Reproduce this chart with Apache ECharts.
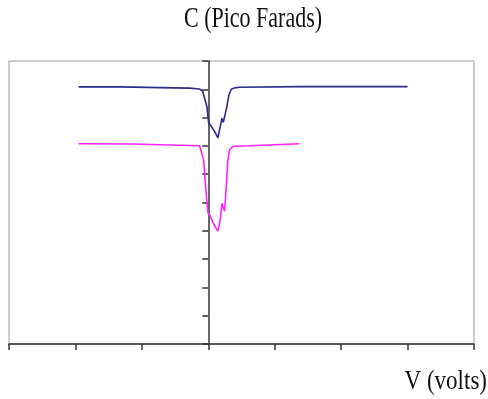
<!DOCTYPE html>
<html><head><meta charset="utf-8">
<script src="https://cdn.jsdelivr.net/npm/echarts@6/dist/echarts.min.js"></script>
<style>html,body{margin:0;padding:0;background:#fff}#c{width:488px;height:399px}</style>
</head><body><div id="c"></div>
<script>
var titleText = 'C (Pico Farads)';
var xAxisName = 'V (volts)';
var xMin = -3, xMax = 4, yMin = 0, yMax = 10;
var blueX = [-1.953,-1.336,-0.733,-0.282,-0.131,-0.086,-0.056,-0.021,0.005,0.045,0.095,0.145,0.181,0.205,0.226,0.245,0.280,0.310,0.346,0.396,0.471,1.375,3.00];
var blueY = [9.085,9.085,9.06,9.04,9.01,8.94,8.87,8.39,7.82,7.69,7.51,7.28,7.69,7.98,7.83,7.89,8.39,8.80,9.00,9.05,9.07,9.095,9.095];
var pinkX = [-1.953,-1.140,-0.432,-0.131,-0.105,-0.071,-0.041,-0.006,0.030,0.069,0.110,0.145,0.181,0.205,0.226,0.245,0.271,0.295,0.321,0.361,0.396,0.622,1.375];
var pinkY = [7.077,7.067,7.025,7.007,6.937,6.514,5.574,4.648,4.518,4.296,4.120,3.989,4.401,4.965,4.813,4.694,5.574,6.514,6.866,6.961,6.989,7.007,7.077];
function pairs(xs, ys){ return xs.map(function(x,i){ return [x, ys[i]]; }); }
var chart = echarts.init(document.getElementById('c'), null, {renderer:'canvas'});
chart.setOption({
  animation:false,
  backgroundColor:'#fff',
  grid:{left:9,right:14,top:61,bottom:55,show:true,borderColor:'#9a9a9a',borderWidth:1,backgroundColor:'#fff'},
  xAxis:{type:'value',min:xMin,max:xMax,interval:1,
    axisLine:{show:true,onZero:true,lineStyle:{color:'#333',width:1.5}},
    axisTick:{show:true,length:6,lineStyle:{color:'#333',width:1.5}},
    axisLabel:{show:false},splitLine:{show:false}},
  yAxis:{type:'value',min:yMin,max:yMax,interval:1,
    axisLine:{show:true,onZero:true,lineStyle:{color:'#333',width:1.5}},
    axisTick:{show:true,length:6,lineStyle:{color:'#333',width:1.5}},
    axisLabel:{show:false},splitLine:{show:false}},
  graphic:[
    {type:'text',x:253,y:19,scaleY:1.35,style:{text:titleText,font:'22px "Liberation Serif", serif',fill:'#111',align:'center',verticalAlign:'middle'}},
    {type:'text',x:487,y:382,scaleY:1.15,style:{text:xAxisName,font:'23px "Liberation Serif", serif',fill:'#111',align:'right',verticalAlign:'middle'}}
  ],
  series:[
    {type:'line',data:pairs(blueX,blueY),showSymbol:false,symbol:'none',lineStyle:{color:'#2b2b8c',width:1.6}},
    {type:'line',data:pairs(pinkX,pinkY),showSymbol:false,symbol:'none',lineStyle:{color:'#ff22ff',width:1.6}}
  ]
});
</script></body></html>
